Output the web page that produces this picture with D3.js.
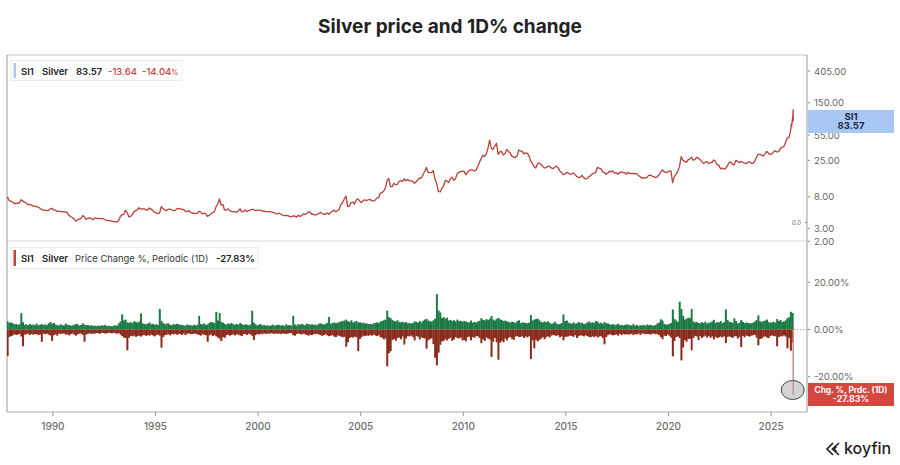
<!DOCTYPE html>
<html>
<head>
<meta charset="utf-8">
<script src="https://cdn.jsdelivr.net/npm/d3@7"></script>
<style>
  body { margin: 0; background: #fff; }
  svg { display: block; font-family: Inter, "Open Sans", sans-serif; }
</style>
</head>
<body>
<svg id="chart"></svg>
<script>
var width = 900, height = 465;
var svg = d3.select("#chart").attr("width", width).attr("height", height);

// monthly silver price (SI1), Oct 1987 .. Nov 2025
var priceMonthly = [
  8.0, 7.1, 7.0,
  6.8, 6.5, 6.5, 6.6, 6.6, 7.3, 7.0, 6.8, 6.5, 6.3, 6.3, 6.2,
  6.0, 6.0, 5.9, 5.8, 5.6, 5.4, 5.3, 5.3, 5.2, 5.2, 5.5, 5.6,
  5.3, 5.3, 5.1, 5.1, 5.1, 5.0, 5.0, 5.0, 4.9, 4.5, 4.3, 4.2,
  4.0, 3.75, 3.9, 4.0, 4.05, 4.45, 4.3, 3.95, 4.1, 4.15, 4.1, 3.9,
  4.15, 4.1, 4.1, 4.05, 4.05, 4.05, 3.95, 3.85, 3.8, 3.8, 3.75, 3.7,
  3.7, 3.65, 3.8, 4.3, 4.6, 4.6, 5.25, 4.9, 4.3, 4.35, 4.6, 5.05,
  5.2, 5.4, 5.7, 5.45, 5.5, 5.5, 5.35, 5.3, 5.65, 5.45, 5.25, 4.95,
  4.85, 4.75, 4.8, 5.9, 5.55, 5.3, 5.2, 5.45, 5.45, 5.35, 5.25, 5.2,
  5.5, 5.6, 5.5, 5.4, 5.4, 5.1, 5.05, 5.2, 4.95, 4.8, 4.8, 4.75,
  4.8, 5.1, 5.0, 4.7, 4.8, 4.7, 4.35, 4.5, 4.7, 4.9, 5.0, 5.9,
  6.4, 7.5, 6.2, 6.3, 5.3, 5.3, 5.5, 5.2, 5.1, 5.05, 5.0, 4.95,
  5.15, 5.5, 5.0, 5.05, 5.3, 5.05, 5.2, 5.3, 5.4, 5.4, 5.2, 5.3,
  5.3, 5.3, 5.1, 5.15, 5.05, 5.05, 5.05, 5.0, 4.95, 4.85, 4.75, 4.7,
  4.8, 4.65, 4.5, 4.45, 4.5, 4.45, 4.35, 4.3, 4.4, 4.4, 4.25, 4.5,
  4.35, 4.45, 4.7, 4.65, 4.75, 5.0, 4.95, 4.65, 4.65, 4.5, 4.65, 4.7,
  4.95, 4.75, 4.65, 4.65, 4.85, 4.65, 4.9, 5.1, 5.3, 5.0, 5.2, 5.45,
  6.3, 6.7, 7.5, 8.2, 5.9, 6.0, 6.7, 6.8, 6.4, 7.3, 7.5, 7.0,
  6.7, 7.1, 7.3, 7.1, 7.3, 7.4, 7.1, 7.0, 7.2, 7.7, 7.8, 8.9,
  9.1, 9.6, 10.4, 13.2, 14.2, 11.0, 11.0, 12.2, 11.7, 11.8, 13.0, 13.3,
  12.9, 14.0, 13.2, 13.7, 13.2, 13.2, 13.0, 12.2, 12.8, 13.6, 14.4, 14.3,
  15.9, 17.6, 20.0, 17.2, 17.0, 17.0, 18.2, 14.0, 12.2, 9.5, 9.3, 10.4,
  11.2, 13.4, 13.1, 12.5, 14.0, 14.8, 13.4, 14.0, 16.5, 17.2, 17.6, 17.8,
  17.7, 15.9, 17.1, 18.1, 18.5, 18.5, 17.9, 18.3, 20.6, 23.3, 26.5, 29.3,
  28.0, 30.5, 36.0, 47.0, 36.5, 35.0, 39.0, 42.5, 30.0, 32.5, 33.0, 29.5,
  31.0, 35.0, 33.0, 31.5, 28.5, 27.5, 27.3, 28.5, 34.5, 33.5, 33.0, 30.5,
  31.5, 31.0, 28.8, 24.5, 22.5, 20.5, 19.7, 22.5, 23.0, 21.9, 20.7, 19.7,
  19.9, 20.8, 20.8, 19.7, 19.3, 20.0, 20.9, 19.9, 18.0, 17.1, 16.0, 16.3,
  17.2, 16.8, 16.2, 16.3, 16.8, 16.0, 15.0, 14.7, 14.7, 15.6, 14.5, 14.0,
  14.1, 15.0, 15.4, 16.3, 16.8, 17.2, 20.0, 19.6, 19.3, 17.6, 17.2, 16.2,
  16.8, 17.8, 17.4, 17.9, 16.8, 17.0, 16.2, 17.1, 17.4, 17.0, 17.0, 16.2,
  17.2, 16.6, 16.5, 16.6, 16.5, 16.5, 15.6, 15.0, 14.3, 14.6, 14.3, 14.7,
  15.6, 15.8, 15.3, 15.0, 14.6, 14.9, 15.8, 17.2, 18.5, 17.6, 17.0, 17.3,
  17.9, 17.8, 12.5, 15.0, 16.1, 17.7, 20.5, 28.0, 25.0, 24.2, 23.4, 25.3,
  26.0, 27.5, 25.2, 25.5, 27.4, 26.8, 25.7, 24.0, 22.7, 23.6, 24.0, 22.5,
  23.3, 23.5, 25.3, 24.3, 21.8, 21.5, 19.2, 19.6, 18.9, 19.4, 21.0, 23.3,
  23.7, 22.0, 21.7, 25.0, 24.2, 23.2, 24.2, 23.5, 23.0, 22.5, 23.5, 24.0,
  22.8, 22.7, 24.3, 27.5, 30.0, 30.0, 29.5, 28.5, 30.5, 33.0, 31.0, 30.0,
  30.5, 32.5, 33.5, 32.5, 32.8, 36.0, 37.5, 38.5, 43.5, 50.0, 51.0
];

// last weeks, finer
var recentDates = ["2025-12-05", "2025-12-12", "2025-12-19", "2025-12-26", "2025-12-30",
  "2026-01-07", "2026-01-14", "2026-01-21", "2026-01-26", "2026-01-29", "2026-01-30"];
var recentPrice = [58.5, 63.0, 67.0, 77.0, 72.0, 78.0, 90.0, 95.0, 108.0, 121.0, 83.57];

// biggest 1D gain / loss (%) in each month, Oct 1987 .. Jan 2026
var upChg = [
  3.5, 2.8, 3.0,
  2.6, 2.2, 2.4, 1.9, 2.3, 6.9, 3.1, 2.0, 2.2, 1.8, 2.4, 2.0,
  2.1, 1.8, 2.5, 1.7, 2.0, 2.3, 1.9, 2.2, 1.8, 2.6, 3.2, 2.4,
  2.8, 2.1, 1.9, 1.6, 2.2, 1.8, 1.7, 2.5, 2.0, 1.9, 1.6, 1.8,
  2.0, 2.4, 2.2, 1.7, 1.9, 2.6, 2.1, 1.8, 1.9, 1.6, 1.8, 1.5,
  1.6, 1.4, 1.7, 1.5, 1.8, 1.6, 1.9, 1.4, 1.6, 1.5, 1.3, 1.6,
  1.8, 1.5, 2.6, 3.4, 6.4, 3.8, 4.2, 3.0, 2.8, 3.1, 2.7, 3.5,
  3.2, 2.9, 3.4, 6.8, 2.6, 2.4, 2.2, 2.5, 3.0, 2.2, 2.4, 2.0,
  2.2, 1.9, 8.7, 3.6, 2.8, 2.2, 2.5, 2.6, 2.0, 1.8, 2.3, 2.1,
  2.4, 2.2, 2.0, 1.9, 1.7, 1.6, 2.1, 1.8, 1.9, 1.6, 2.0, 1.7,
  2.0, 5.8, 2.4, 2.1, 2.6, 1.9, 2.2, 2.8, 3.2, 3.0, 2.7, 7.5,
  3.8, 7.0, 3.2, 2.9, 2.4, 2.1, 2.6, 2.3, 2.8, 2.2, 2.0, 2.4,
  2.1, 2.8, 2.3, 1.9, 2.2, 2.0, 1.8, 2.1, 8.0, 2.9, 2.2, 1.8,
  2.0, 2.3, 1.7, 1.9, 1.6, 1.8, 1.5, 1.7, 2.1, 1.6, 1.8, 2.0,
  1.9, 1.6, 1.8, 1.5, 2.2, 1.7, 1.9, 1.6, 5.8, 2.1, 1.7, 2.3,
  2.0, 2.4, 2.1, 1.8, 2.5, 2.3, 2.0, 2.2, 1.9, 2.1, 1.8, 2.4,
  2.6, 2.3, 2.1, 2.4, 2.8, 5.3, 2.5, 2.7, 3.0, 2.6, 2.9, 3.1,
  3.4, 3.6, 3.8, 4.2, 3.5, 3.2, 3.9, 3.0, 3.3, 3.6, 2.9, 3.1,
  2.7, 2.9, 2.5, 2.6, 2.3, 2.4, 2.2, 2.6, 2.8, 3.0, 2.7, 3.4,
  3.6, 3.9, 4.2, 8.0, 5.2, 4.8, 4.0, 3.6, 3.4, 3.9, 3.2, 3.0,
  3.3, 2.9, 3.1, 2.6, 2.8, 2.5, 2.7, 3.4, 3.2, 2.9, 3.6, 3.0,
  3.7, 4.2, 4.5, 3.8, 3.5, 3.3, 3.9, 4.6, 15.0, 8.0, 7.2, 4.8,
  5.2, 4.6, 5.0, 3.8, 4.1, 3.6, 3.9, 3.4, 4.2, 3.5, 3.7, 3.3,
  3.6, 3.4, 3.1, 3.0, 3.8, 2.9, 3.2, 3.0, 3.4, 3.7, 4.8, 4.1,
  3.9, 4.4, 4.0, 4.6, 5.7, 4.2, 3.8, 4.5, 4.9, 4.3, 4.0, 3.6,
  3.8, 3.4, 3.2, 2.9, 3.3, 3.1, 2.8, 3.5, 3.9, 2.7, 3.0, 2.9,
  2.8, 2.6, 2.9, 6.1, 3.8, 4.2, 4.4, 4.6, 3.9, 3.2, 3.0, 3.4,
  3.1, 3.5, 2.8, 2.4, 2.6, 3.3, 2.5, 2.2, 2.3, 2.8, 6.4, 3.6,
  3.8, 2.9, 2.7, 2.4, 3.0, 2.5, 2.6, 3.2, 2.7, 2.9, 2.3, 2.5,
  3.0, 3.4, 2.8, 3.1, 2.7, 3.6, 3.3, 2.6, 2.9, 2.4, 3.2, 2.7,
  2.5, 2.2, 2.0, 2.3, 1.9, 2.1, 2.4, 1.8, 2.0, 1.7, 1.9, 2.2,
  2.0, 1.8, 1.7, 2.3, 1.6, 1.9, 1.5, 1.8, 1.7, 1.9, 1.6, 2.1,
  1.8, 2.0, 1.7, 1.6, 1.9, 2.6, 2.9, 4.3, 3.8, 2.4, 2.0, 2.2,
  2.4, 2.8, 8.5, 4.4, 3.8, 3.2, 11.8, 8.7, 5.8, 4.2, 4.6, 5.0,
  4.8, 8.7, 3.4, 3.0, 3.2, 2.8, 2.6, 3.1, 2.7, 3.3, 2.5, 2.9,
  3.0, 3.4, 4.1, 2.8, 3.2, 2.9, 3.6, 2.7, 3.1, 8.5, 4.0, 3.3,
  3.1, 2.8, 4.7, 3.6, 2.6, 2.9, 4.0, 3.2, 2.7, 3.0, 2.8, 2.6,
  2.7, 2.9, 3.4, 4.0, 6.0, 3.5, 3.2, 3.6, 3.8, 4.2, 3.1, 2.9,
  3.0, 3.3, 2.9, 4.4, 3.6, 4.0, 3.2, 3.4, 3.9, 4.8, 5.2, 7.5,
  7.0
];
var downChg = [
  11.3, 3.2, 2.8,
  2.5, 2.0, 2.3, 2.1, 1.9, 3.0, 7.1, 2.2, 2.0, 1.8, 2.3, 1.9,
  2.2, 1.9, 2.0, 2.4, 2.1, 5.2, 1.8, 2.0, 1.7, 2.2, 2.5, 4.8,
  2.4, 2.0, 2.6, 1.7, 1.9, 1.8, 1.6, 2.2, 2.0, 2.5, 1.9, 1.7,
  2.2, 2.6, 2.0, 1.8, 1.7, 2.3, 5.2, 2.1, 1.8, 1.6, 1.9, 1.7,
  1.7, 1.5, 1.6, 1.8, 1.4, 1.5, 1.7, 1.6, 1.4, 1.5, 1.6, 1.4,
  1.6, 1.8, 1.5, 2.2, 2.8, 3.4, 3.6, 8.8, 3.5, 2.7, 2.9, 2.6,
  3.1, 2.8, 2.6, 3.0, 2.5, 2.3, 2.7, 2.4, 2.6, 2.2, 2.5, 2.9,
  2.4, 2.1, 2.6, 7.7, 3.2, 2.4, 2.2, 2.0, 2.5, 1.9, 2.1, 1.8,
  2.2, 2.0, 1.9, 2.3, 1.7, 2.4, 1.8, 1.6, 2.0, 1.9, 1.7, 1.8,
  2.1, 2.3, 2.6, 2.0, 2.2, 2.4, 5.2, 2.5, 2.1, 2.8, 2.4, 2.9,
  3.4, 3.9, 4.9, 3.2, 3.5, 2.4, 2.2, 2.6, 2.3, 2.1, 2.5, 2.0,
  2.2, 2.5, 2.8, 2.0, 1.9, 2.3, 1.8, 2.1, 2.6, 4.5, 2.4, 1.9,
  2.1, 1.8, 2.0, 1.6, 1.9, 1.7, 1.8, 1.5, 1.7, 1.9, 1.6, 1.8,
  1.7, 2.0, 1.6, 1.8, 1.9, 1.7, 1.5, 1.6, 2.4, 2.6, 1.9, 1.7,
  1.9, 2.1, 1.8, 2.0, 2.3, 2.6, 2.2, 2.4, 1.9, 2.0, 1.8, 2.1,
  2.4, 2.7, 2.3, 2.0, 2.5, 2.8, 2.6, 2.4, 3.0, 3.2, 2.5, 2.7,
  3.0, 3.3, 3.1, 7.3, 5.4, 3.6, 3.2, 3.4, 3.0, 3.3, 9.2, 4.0,
  3.2, 2.6, 2.8, 2.5, 2.7, 2.3, 2.6, 2.2, 2.5, 2.8, 2.4, 3.2,
  3.5, 4.2, 3.8, 15.6, 10.0, 9.2, 4.5, 4.0, 4.8, 3.6, 3.4, 4.1,
  3.0, 6.4, 3.8, 2.8, 2.9, 2.6, 3.1, 4.6, 2.8, 3.0, 4.2, 3.3,
  3.6, 3.8, 8.1, 4.6, 4.0, 3.7, 6.2, 12.0, 15.2, 9.8, 6.5, 5.0,
  4.8, 4.0, 4.6, 3.9, 3.5, 4.8, 4.2, 3.2, 3.6, 3.8, 3.4, 4.6,
  4.4, 5.0, 3.2, 3.0, 4.6, 3.2, 3.5, 2.8, 2.9, 3.6, 5.8, 4.2,
  4.8, 3.4, 3.8, 4.2, 11.6, 5.2, 3.6, 5.4, 12.8, 5.6, 4.8, 5.4,
  3.8, 4.6, 3.5, 3.2, 4.0, 4.4, 3.0, 2.8, 3.2, 3.1, 2.9, 3.6,
  2.9, 3.4, 2.8, 12.5, 4.6, 8.0, 4.3, 5.0, 4.4, 3.9, 3.2, 4.1,
  3.2, 2.8, 3.4, 2.6, 2.3, 2.5, 2.7, 2.4, 3.3, 2.9, 4.6, 3.2,
  3.0, 2.9, 2.6, 2.8, 3.1, 2.4, 3.6, 2.7, 2.5, 2.6, 2.9, 2.4,
  2.8, 3.1, 3.3, 2.9, 3.2, 2.7, 3.4, 3.0, 2.8, 3.6, 6.3, 3.2,
  2.4, 2.0, 2.2, 2.5, 2.3, 2.1, 2.6, 1.8, 2.4, 1.9, 2.1, 2.0,
  2.2, 2.0, 1.8, 2.4, 1.9, 2.1, 1.7, 2.3, 1.6, 1.8, 2.0, 1.9,
  1.9, 2.2, 1.8, 1.7, 2.0, 1.9, 2.4, 3.2, 4.1, 2.6, 2.8, 2.1,
  2.6, 3.4, 11.4, 4.8, 3.2, 2.9, 3.6, 13.1, 7.6, 4.5, 5.2, 4.0,
  3.9, 8.8, 3.6, 2.7, 2.9, 4.5, 2.8, 3.6, 3.0, 2.6, 3.4, 2.8,
  3.5, 2.9, 4.2, 3.1, 3.6, 3.3, 3.0, 3.4, 2.8, 5.7, 3.2, 2.9,
  3.2, 3.6, 2.9, 2.8, 3.8, 3.1, 7.4, 2.7, 3.3, 2.6, 2.8, 3.0,
  2.6, 2.4, 2.2, 3.5, 6.7, 4.0, 3.8, 3.1, 2.9, 3.4, 3.6, 2.8,
  2.5, 2.7, 2.9, 7.1, 3.2, 2.8, 2.9, 2.5, 3.0, 8.0, 3.6, 9.0,
  5.5
];
var lastDate = "2026-01-30", lastChange = -27.83;

var priceTicks = [405, 150, 55, 25, 8, 3, 2];
var chgTicks = [20, 0, -20];
var yearTicks = [1990, 1995, 2000, 2005, 2010, 2015, 2020, 2025];

var plotL = 7, plotR = 807, plotT = 55, plotMid = 241, plotB = 412;
var parse = d3.timeParse("%Y-%m-%d");

var x = d3.scaleTime()
  .domain([new Date(1987, 9, 8), new Date(2026, 9, 2)])
  .range([plotL, plotR]);
var yP = d3.scaleLog().domain([2, 405]).range([241.3, 71]);
var yC = d3.scaleLinear().domain([-20, 20]).range([376.7, 282.3]);

// title
svg.append("text").attr("x", 450).attr("y", 33).attr("text-anchor", "middle")
  .style("font-size", "19px").style("font-weight", 700).attr("fill", "#222")
  .text("Silver price and 1D% change");

var defs = svg.append("defs");
defs.append("clipPath").attr("id", "clipTop").append("rect")
  .attr("x", plotL).attr("y", plotT).attr("width", plotR - plotL).attr("height", plotMid - plotT);
defs.append("clipPath").attr("id", "clipBot").append("rect")
  .attr("x", plotL).attr("y", plotMid).attr("width", plotR - plotL).attr("height", plotB - plotMid);

// frame
svg.append("line").attr("x1", plotL).attr("x2", plotR).attr("y1", plotT).attr("y2", plotT).attr("stroke", "#c4c4c4");
svg.append("line").attr("x1", plotL).attr("x2", plotR).attr("y1", plotMid).attr("y2", plotMid).attr("stroke", "#d8d8d8");
svg.append("line").attr("x1", plotL).attr("x2", plotR).attr("y1", plotB).attr("y2", plotB).attr("stroke", "#aaa");
svg.append("line").attr("x1", plotL).attr("x2", plotL).attr("y1", plotT).attr("y2", plotB).attr("stroke", "#999");
svg.append("line").attr("x1", plotR).attr("x2", plotR).attr("y1", plotT).attr("y2", plotB).attr("stroke", "#999");

// price line
var pricePts = priceMonthly.map(function (v, i) {
  return [new Date(1987, 9 + i, 15), v];
});
recentDates.forEach(function (d, i) { pricePts.push([parse(d), recentPrice[i]]); });

var line = d3.line()
  .x(function (d) { return x(d[0]); })
  .y(function (d) { return yP(d[1]); });

svg.append("g").attr("clip-path", "url(#clipTop)")
  .append("path")
  .datum(pricePts)
  .attr("fill", "none")
  .attr("stroke", "#b8403a")
  .attr("stroke-width", 1.3)
  .attr("stroke-linejoin", "round")
  .attr("d", line);

// change bars
var months = upChg.map(function (v, i) { return new Date(1987, 9 + i, 1); });
var gBars = svg.append("g").attr("clip-path", "url(#clipBot)");
gBars.selectAll("rect.up")
  .data(upChg)
  .enter().append("rect")
  .attr("class", "up")
  .attr("x", function (d, i) { return x(months[i]); })
  .attr("width", function (d, i) { return x(new Date(1987, 10 + i, 1)) - x(months[i]) + 0.3; })
  .attr("y", function (d) { return yC(d); })
  .attr("height", function (d) { return yC(0) - yC(d); })
  .attr("fill", "#1c7a44");
gBars.selectAll("rect.down")
  .data(downChg)
  .enter().append("rect")
  .attr("class", "down")
  .attr("x", function (d, i) { return x(months[i]); })
  .attr("width", function (d, i) { return x(new Date(1987, 10 + i, 1)) - x(months[i]) + 0.3; })
  .attr("y", yC(0))
  .attr("height", function (d) { return yC(-d) - yC(0); })
  .attr("fill", "#8a2a1a");
gBars.append("rect")
  .attr("x", x(parse(lastDate)) - 0.8)
  .attr("width", 1.6)
  .attr("y", yC(0))
  .attr("height", yC(lastChange) - yC(0))
  .attr("fill", "#d58f88");

// dotted zero guide after last bar
svg.append("line")
  .attr("x1", x(parse(lastDate)) + 1).attr("x2", plotR)
  .attr("y1", yC(0)).attr("y2", yC(0))
  .attr("stroke", "#888").attr("stroke-dasharray", "1,2");

// marker circle round the last bar
svg.append("ellipse")
  .attr("cx", x(parse(lastDate)) - 0.5).attr("cy", 390)
  .attr("rx", 11.5).attr("ry", 9.5)
  .attr("fill", "rgba(170,170,170,0.5)")
  .attr("stroke", "#444").attr("stroke-width", 1);

// right axes
var axisG = svg.append("g").style("font-size", "9.5px").attr("fill", "#666");
priceTicks.forEach(function (t) {
  axisG.append("line").attr("x1", plotR + 1).attr("x2", plotR + 3)
    .attr("y1", yP(t)).attr("y2", yP(t)).attr("stroke", "#888");
  axisG.append("text").attr("x", 814).attr("y", yP(t) + 3.5).text(t.toFixed(2));
});
chgTicks.forEach(function (t) {
  axisG.append("line").attr("x1", plotR + 1).attr("x2", plotR + 3)
    .attr("y1", yC(t)).attr("y2", yC(t)).attr("stroke", "#888");
  axisG.append("text").attr("x", 814).attr("y", yC(t) + 3.5).text(t.toFixed(2) + "%");
});
svg.append("text").attr("x", 801).attr("y", 224.5).attr("text-anchor", "end")
  .style("font-size", "6px").attr("fill", "#666").text("0.0");
svg.append("line").attr("x1", 805).attr("x2", 807).attr("y1", 222.5).attr("y2", 222.5).attr("stroke", "#888");

// value boxes
var lastPrice = recentPrice[recentPrice.length - 1];
svg.append("rect").attr("x", 808).attr("y", 110).attr("width", 86).attr("height", 23).attr("fill", "#a9c7f3");
svg.append("text").attr("x", 851).attr("y", 119.8).attr("text-anchor", "middle")
  .style("font-size", "9.5px").style("font-weight", 700).attr("fill", "#1b2a48").text("SI1");
svg.append("text").attr("x", 851).attr("y", 129.3).attr("text-anchor", "middle")
  .style("font-size", "9.5px").style("font-weight", 700).attr("fill", "#1b2a48").text(lastPrice.toFixed(2));

svg.append("rect").attr("x", 808).attr("y", 383).attr("width", 86).attr("height", 23).attr("fill", "#d4473f");
svg.append("text").attr("x", 851).attr("y", 392.5).attr("text-anchor", "middle")
  .style("font-size", "8.3px").style("font-weight", 700).attr("fill", "#fff").text("Chg. %, Prdc. (1D)");
svg.append("text").attr("x", 851).attr("y", 402).attr("text-anchor", "middle")
  .style("font-size", "8.8px").style("font-weight", 700).attr("fill", "#fff").text(lastChange.toFixed(2) + "%");

// x axis
yearTicks.forEach(function (yr) {
  var xx = x(new Date(yr, 0, 1));
  svg.append("line").attr("x1", xx).attr("x2", xx).attr("y1", plotB).attr("y2", plotB + 4).attr("stroke", "#999");
  svg.append("text").attr("x", xx).attr("y", 430).attr("text-anchor", "middle")
    .style("font-size", "10px").style("font-weight", 500).attr("fill", "#6e6e6e").text(yr);
});

// legends
function lgText(g, xx, yy, txt, color, weight, size) {
  return g.append("text").attr("x", xx).attr("y", yy).style("font-size", (size || 9.5) + "px")
    .style("font-weight", weight).attr("fill", color).text(txt);
}
var lg1 = svg.append("g");
lg1.append("rect").attr("x", 11).attr("y", 60.5).attr("width", 171).attr("height", 20)
  .attr("fill", "#fff").attr("stroke", "#ececec");
lg1.append("rect").attr("x", 13.5).attr("y", 63).attr("width", 2.5).attr("height", 15).attr("fill", "#a9c7f3");
lgText(lg1, 21, 74.5, "SI1", "#222", 600);
lgText(lg1, 42, 74.5, "Silver", "#222", 600);
lgText(lg1, 76, 74.5, lastPrice.toFixed(2), "#222", 600);
lgText(lg1, 108, 74.5, "-13.64", "#c8403a", 500);
var pct = lgText(lg1, 142, 74.5, "-14.04", "#c8403a", 500);
pct.append("tspan").style("font-size", "7px").text("%");

var lg2 = svg.append("g");
lg2.append("rect").attr("x", 11).attr("y", 247.5).attr("width", 247).attr("height", 21)
  .attr("fill", "#fff").attr("stroke", "#ececec");
lg2.append("rect").attr("x", 13.5).attr("y", 250).attr("width", 2.5).attr("height", 16).attr("fill", "#c2413a");
lgText(lg2, 21, 261.5, "SI1", "#222", 600);
lgText(lg2, 42, 261.5, "Silver", "#222", 600);
lgText(lg2, 75, 261.5, "Price Change %, Periodic (1D)", "#333", 400, 9.4);
lgText(lg2, 216, 261.5, lastChange.toFixed(2) + "%", "#222", 600);

// koyfin mark
var logo = svg.append("g").attr("fill", "none").attr("stroke", "#222").attr("stroke-width", 1.7);
logo.append("path").attr("d", "M833,443 L827,449 L833,455");
logo.append("path").attr("d", "M839,443 L832.5,449 L839,455");
logo.append("path").attr("d", "M836.5,446.5 L834,449 L836.5,451.5");
svg.append("text").attr("x", 844).attr("y", 454).style("font-size", "16px").style("font-weight", 500)
  .attr("fill", "#222").text("koyfin");
</script>
</body>
</html>
